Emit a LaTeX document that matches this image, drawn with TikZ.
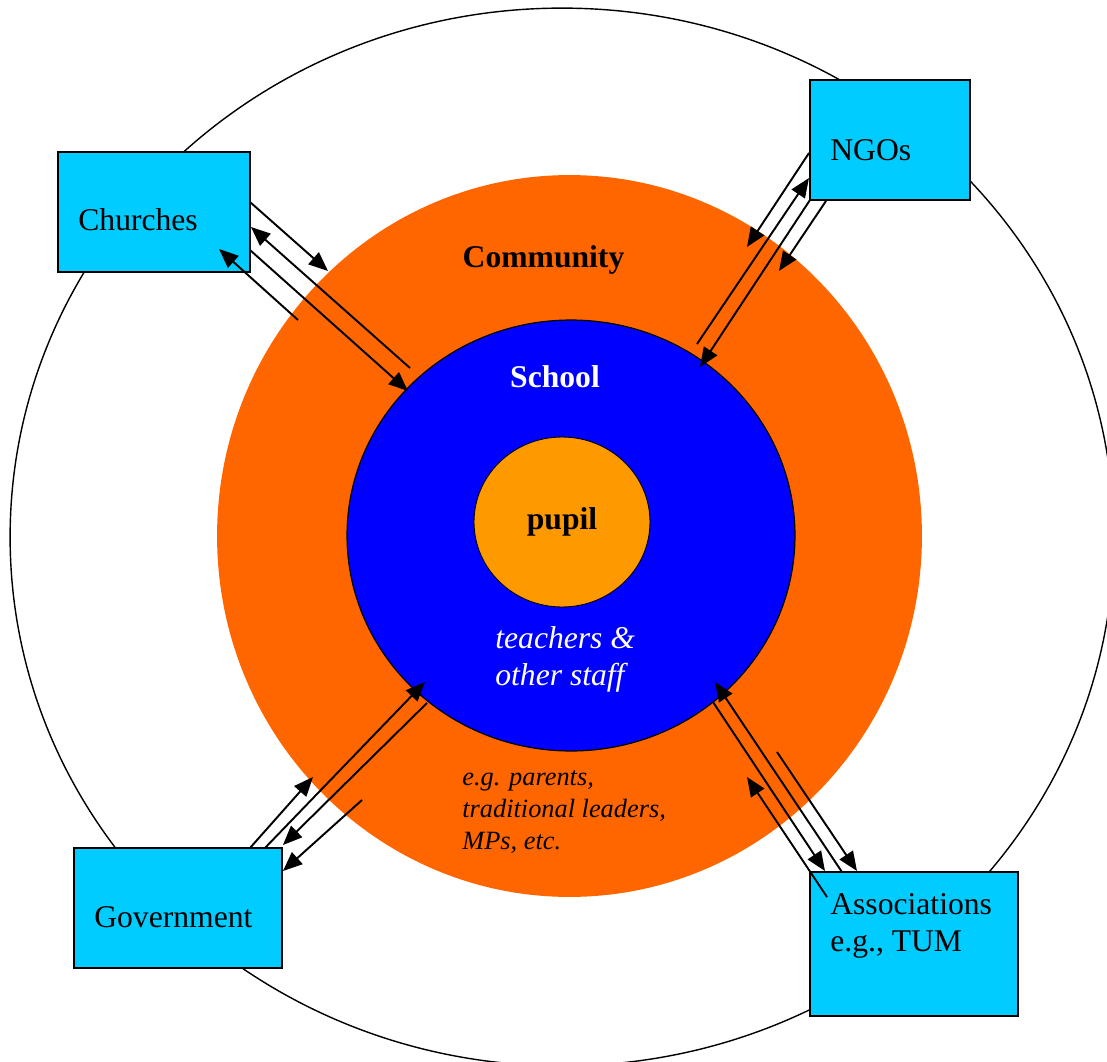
\documentclass[tikz,border=0pt]{standalone}
\usepackage{fontspec}
\setmainfont{Liberation Serif}
\usetikzlibrary{shapes.geometric,arrows.meta,calc}

\definecolor{orgfill}{HTML}{FF6600}
\definecolor{schoolblue}{HTML}{0000FF}
\definecolor{pupilfill}{HTML}{FF9900}
\definecolor{boxcyan}{HTML}{00CCFF}

\begin{document}
\begin{tikzpicture}[x=0.02cm,y=-0.02cm,
  ring/.style={ellipse,inner sep=0pt,outer sep=0pt},
  actor/.style={draw,fill=boxcyan,line width=0.8pt,anchor=north west,inner sep=0pt,outer sep=0pt},
  boxtext/.style={anchor=base west,inner sep=0pt,align=left,font=\fontsize{18}{21}\selectfont},
  bigtext/.style={anchor=base,inner sep=0pt,font=\bfseries\fontsize{18}{21}\selectfont},
  flow/.style={line width=1.1pt,-{Triangle[length=11pt,width=9pt]}}]
\useasboundingbox (0,0) rectangle (1107,1062);

% rings, outermost first
\node[ring,draw,line width=0.8pt,minimum width=22.08cm,minimum height=21.16cm] (society) at (562,537) {};
\node[ring,fill=orgfill,minimum width=14.1cm,minimum height=14.44cm] (community) at (569.5,536) {};
\node[ring,draw,line width=0.7pt,fill=schoolblue,minimum width=8.96cm,minimum height=8.62cm] (school) at (571,535.5) {};
\node[ring,draw,line width=0.5pt,fill=pupilfill,minimum width=3.52cm,minimum height=3.4cm] (pupil) at (562,522) {};

% partners
\node[actor,minimum width=3.84cm,minimum height=2.4cm] (churches) at (58,152) {};
\node[actor,minimum width=3.2cm,minimum height=2.4cm] (ngos) at (810,80) {};
\node[actor,minimum width=4.16cm,minimum height=2.4cm] (govt) at (74,848) {};
\node[actor,minimum width=4.16cm,minimum height=2.88cm] (assoc) at (810,872) {};

\node[boxtext] (churcheslbl) at ($(churches.north west)+(20,78)$) {Churches};
\node[boxtext] (ngoslbl) at ($(ngos.north west)+(20,80)$) {NGOs};
\node[boxtext] (govtlbl) at ($(govt.north west)+(20,79)$) {Government};
\node[boxtext] (assoclbl) at ($(assoc.north west)+(20,79)$) {Associations\\e.g., TUM};

% ring labels (multi-line ones sit on their last line)
\node[bigtext] (commlbl) at (543.5,267) {Community};
\node[bigtext,text=white] (schoollbl) at (555,387) {School};
\node[bigtext] (pupillbl) at (562,529) {pupil};
\node[anchor=base west,inner sep=0pt,align=left,text=white,font=\itshape\fontsize{18}{21}\selectfont] (stafflbl) at (495,685) {teachers \&\\other staff};
\node[anchor=base west,inner sep=0pt,align=left,font=\itshape\fontsize{15}{18.1}\selectfont] (memberslbl) at (462,849) {e.g. parents,\\traditional leaders,\\MPs, etc.};

% loose ends of the links
\coordinate (ch1) at (328,271);
\coordinate (ch2) at (410,368);
\coordinate (ch3) at (408,391);
\coordinate (ch4) at (298,320);
\coordinate (ng1) at (747,247);
\coordinate (ng2) at (697,344);
\coordinate (ng3) at (700,367);
\coordinate (ng4) at (779,271);
\coordinate (gv1) at (313,777);
\coordinate (gv2) at (425,682);
\coordinate (gv3) at (427,703);
\coordinate (gv4) at (362,800);
\coordinate (as1) at (713,702);
\coordinate (as2) at (715,682);
\coordinate (as3) at (777,752);
\coordinate (as4) at (747,777);

% links
\draw[flow] ($(churches.east)+(0,-10)$) -- (ch1);
\draw[flow] (ch2) -- ($(churches.east)+(1,15)$);
\draw[flow] ($(churches.east)+(0,38)$) -- (ch3);
\draw[flow] (ch4) -- ($(churches.south east)+(-31,-23)$);

\draw[flow] ($(ngos.west)+(-1,13)$) -- (ng1);
\draw[flow] (ng2) -- ($(ngos.west)+(-1,38)$);
\draw[flow] (ngos.south west) -- (ng3);
\draw[flow] ($(ngos.south west)+(16,1)$) -- (ng4);

\draw[flow] ($(govt.north east)+(-32,0)$) -- (gv1);
\draw[flow] ($(govt.north east)+(-17,0)$) -- (gv2);
\draw[flow] (gv3) -- ($(govt.north east)+(1,-3)$);
\draw[flow] (gv4) -- ($(govt.north east)+(1,23)$);

\draw[flow] (as1) -- ($(assoc.north west)+(15,-1)$);
\draw[flow] ($(assoc.north west)+(32,0)$) -- (as2);
\draw[flow] (as3) -- ($(assoc.north west)+(47,-1)$);
\draw[flow] ($(assoc.north west)+(17,25)$) -- (as4);
\end{tikzpicture}
\end{document}
